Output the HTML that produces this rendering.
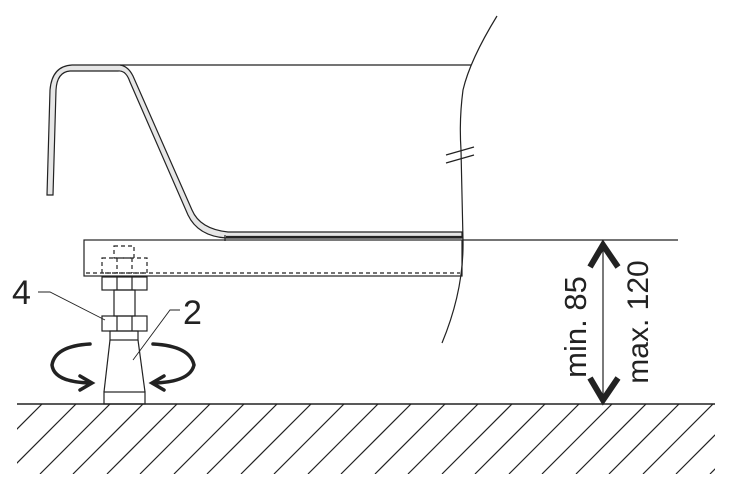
<!DOCTYPE html>
<html><head><style>html,body{margin:0;padding:0;background:#fff}svg{display:block}</style></head>
<body>
<svg width="732" height="498" viewBox="0 0 732 498" xmlns="http://www.w3.org/2000/svg">
<defs><clipPath id="g"><rect x="17" y="404" width="698" height="70"/></clipPath></defs>
<g fill="none" stroke="#222" stroke-width="1.2">
<path d="M47,195 L50,90 Q52,66 72,65 L120,65 Q128,66 133,76 L192,210 Q200,229 228,232 L462,232 L462,238 L226,238 Q198,236 188,215 L130,82 Q126,70 118,71 L70,71 Q57,72 56,90 L53,195 Z" fill="#e6e6e6"/>
<line x1="120" y1="65" x2="471" y2="65"/>
<line x1="226" y1="237" x2="462" y2="237" stroke-width="2.2"/>
<line x1="225" y1="235" x2="225" y2="241"/>
<rect x="84" y="240" width="378" height="36"/>
<line x1="462" y1="240" x2="678" y2="240"/>
<line x1="86" y1="273" x2="460" y2="273" stroke-dasharray="4,3"/>
<rect x="114" y="246" width="20" height="12" stroke-dasharray="4,3"/>
<rect x="102" y="258" width="45" height="15" stroke-dasharray="4,3"/>
<line x1="117" y1="258" x2="117" y2="273" stroke-dasharray="4,3"/>
<line x1="132" y1="258" x2="132" y2="273" stroke-dasharray="4,3"/>
<path d="M497,16 Q470,60 463,90 Q459,120 461,150 L463,240 Q464,290 442,343"/>
<line x1="446" y1="155" x2="474" y2="147"/>
<line x1="446" y1="163" x2="474" y2="155"/>
<rect x="102" y="277" width="45" height="13"/>
<line x1="117" y1="277" x2="117" y2="290"/><line x1="132" y1="277" x2="132" y2="290"/>
<rect x="114" y="290" width="21" height="26"/>
<rect x="102" y="316" width="45" height="15"/>
<line x1="117" y1="316" x2="117" y2="331"/><line x1="132" y1="316" x2="132" y2="331"/>
<rect x="110" y="331" width="28" height="9"/>
<line x1="110" y1="340" x2="104" y2="392"/><line x1="138" y1="340" x2="145" y2="392"/>
<rect x="104" y="392" width="41" height="12"/>
<polyline points="38,292 50,292 105,320" stroke-width="0.9"/>
<polyline points="180,310 170,310 133,360" stroke-width="0.9"/>
<line x1="17" y1="404" x2="715" y2="404" stroke-width="1.4"/>
<g clip-path="url(#g)" stroke-width="1.2">
<line x1="42" y1="404" x2="-28" y2="474"/><line x1="76" y1="404" x2="6" y2="474"/>
<line x1="110" y1="404" x2="40" y2="474"/><line x1="143" y1="404" x2="73" y2="474"/>
<line x1="177" y1="404" x2="107" y2="474"/><line x1="210" y1="404" x2="140" y2="474"/>
<line x1="244" y1="404" x2="174" y2="474"/><line x1="277" y1="404" x2="207" y2="474"/>
<line x1="311" y1="404" x2="241" y2="474"/><line x1="344" y1="404" x2="274" y2="474"/>
<line x1="378" y1="404" x2="308" y2="474"/><line x1="411" y1="404" x2="341" y2="474"/>
<line x1="445" y1="404" x2="375" y2="474"/><line x1="478" y1="404" x2="408" y2="474"/>
<line x1="512" y1="404" x2="442" y2="474"/><line x1="545" y1="404" x2="475" y2="474"/>
<line x1="579" y1="404" x2="509" y2="474"/><line x1="612" y1="404" x2="542" y2="474"/>
<line x1="646" y1="404" x2="576" y2="474"/><line x1="679" y1="404" x2="609" y2="474"/>
<line x1="713" y1="404" x2="643" y2="474"/><line x1="746" y1="404" x2="676" y2="474"/>
<line x1="780" y1="404" x2="710" y2="474"/>
</g>
<g stroke-width="3.5" stroke-linecap="round">
<path d="M90,344 Q55,346 52,365 Q54,382 90,383"/>
<polyline points="80,376 92,383 80,390"/>
<path d="M153,344 Q190,346 194,365 Q190,382 154,383"/>
<polyline points="164,376 152,383 164,390"/>
</g>
<line x1="603" y1="242" x2="603" y2="402"/>
<polyline points="590,267 603,245 618,267" stroke-width="6"/>
<polyline points="590,378 603,400 618,378" stroke-width="6"/>
</g>
<g font-family="Liberation Sans, sans-serif" fill="#222">
<text x="12" y="304" font-size="34">4</text>
<text x="183" y="324" font-size="34">2</text>
<text transform="translate(586,327) rotate(-90)" text-anchor="middle" font-size="31">min. 85</text>
<text transform="translate(648,322) rotate(-90)" text-anchor="middle" font-size="30">max. 120</text>
</g>
</svg>
</body></html>
